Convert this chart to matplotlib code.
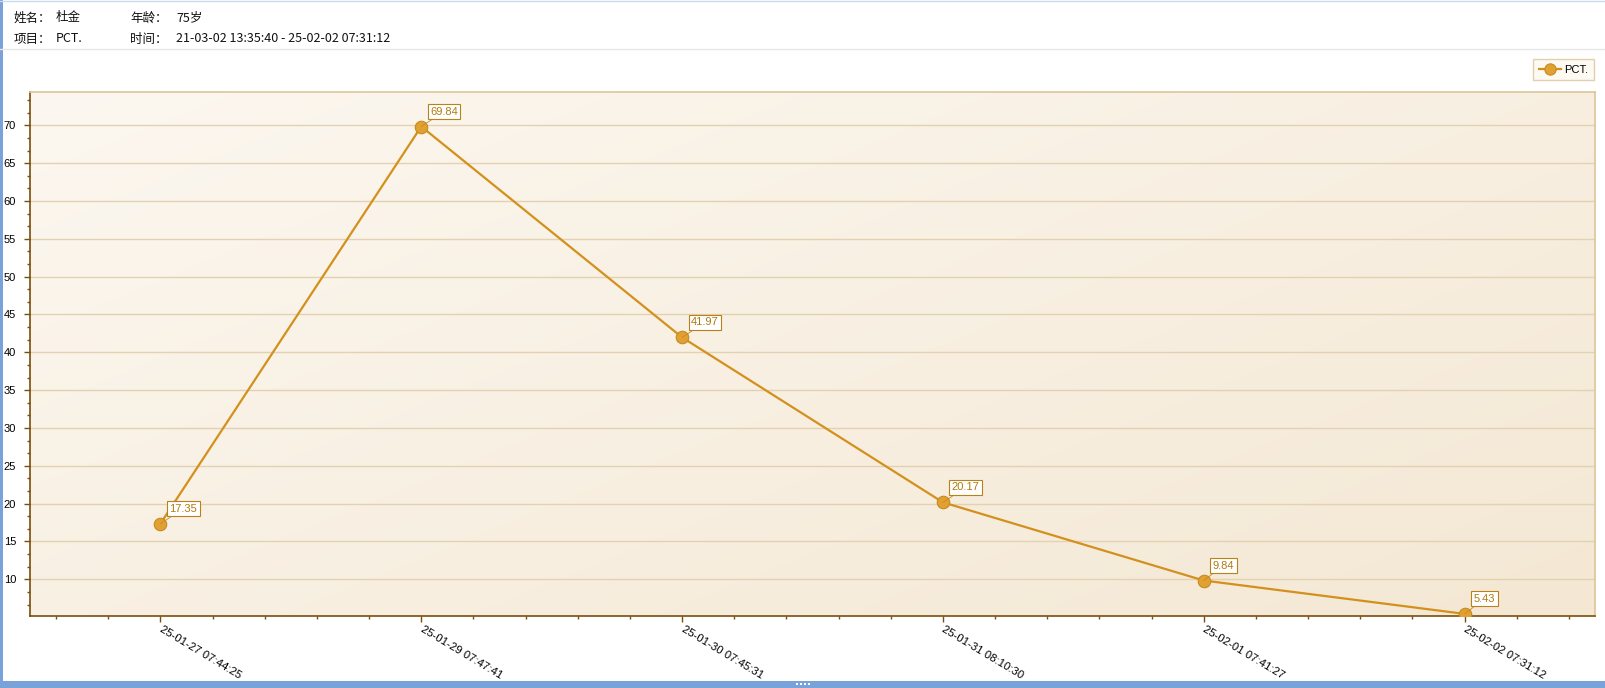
import numpy as np
import matplotlib
matplotlib.use("Agg")
import matplotlib.pyplot as plt
from matplotlib.patches import Rectangle
from matplotlib.lines import Line2D
from matplotlib.ticker import MultipleLocator

plt.rcParams['font.family'] = ['Liberation Sans', 'Noto Sans CJK SC']

# data
times = ["25-01-27 07:44:25", "25-01-29 07:47:41", "25-01-30 07:45:31",
         "25-01-31 08:10:30", "25-02-01 07:41:27", "25-02-02 07:31:12"]
pct = [17.35, 69.84, 41.97, 20.17, 9.84, 5.43]
series_name = "PCT."

# header info
header_rows = [
    [("姓名：", "杜金"), ("年龄：", "75岁")],
    [("项目：", "PCT."), ("时间：", "21-03-02 13:35:40 - 25-02-02 07:31:12")],
]

W, H = 1605, 688
fig = plt.figure(figsize=(W / 100, H / 100), dpi=100)
fig.patch.set_facecolor("white")

def px(x, y):
    return x / W, 1 - y / H

# header
cjk = ['Noto Sans CJK SC', 'DejaVu Sans']
for row, y in zip(header_rows, [18, 39]):
    for (lab, val), (x1, x2) in zip(row, [(14, 56), (130, 176)]):
        fig.text(*px(x1, y), lab, fontsize=9, family=cjk, va='center', ha='left', color='#111111')
        fig.text(*px(x2, y), val, fontsize=9, family=cjk, va='center', ha='left', color='#111111')
fig.add_artist(Line2D([0, 1], [1 - 49 / H] * 2, color='#e6e6e6', lw=1))

# window chrome
fig.add_artist(Rectangle((0, 0), 2.5 / W, 1, color='#7aa2da', lw=0))
fig.add_artist(Rectangle((0, 0), 1, 7 / H, color='#7aa2da', lw=0))
fig.add_artist(Line2D([0, 1], [1 - 0.5 / H] * 2, color='#c9d9f0', lw=1))
for i in range(4):
    fig.add_artist(Rectangle(((796 + i * 4) / W, 3 / H), 2 / W, 2 / H, color='white', lw=0))

# plot area
ax = fig.add_axes([30 / W, (H - 616) / H, (1595 - 30) / W, (616 - 92) / H])
ax.set_facecolor('none')
grad = np.linspace(0, 1, 200)
gx, gy = np.meshgrid(grad, grad)
g = (gx * 0.55 + gy * 0.45)
c0 = np.array([0.988, 0.969, 0.941])
c1 = np.array([0.957, 0.910, 0.831])
img = c0 + (c1 - c0) * g[..., None]
ax.imshow(img, extent=[0, 1, 0, 1], transform=ax.transAxes, aspect='auto', zorder=0)

x = np.arange(len(times))
line_col = '#d4901c'
ax.plot(x, pct, color=line_col, lw=1.6, marker='o', ms=9,
        markerfacecolor='#e0a032', markeredgecolor='#c98a1e', markeredgewidth=0.8, zorder=3)

for xi, yi in zip(x, pct):
    ax.annotate(f"{yi:.2f}", (xi, yi), xytext=(9, 10), textcoords='offset pixels',
                fontsize=8, color='#b07a10', ha='left', va='bottom',
                bbox=dict(boxstyle='square,pad=0.22', fc='white', ec='#b8821a', lw=0.8),
                arrowprops=dict(arrowstyle='-', color='#c98a1e', lw=0.6, shrinkA=0, shrinkB=0),
                zorder=4)

ax.set_xlim(-0.5, 5.5)
ax.set_ylim(5.15, 74.4)
ax.yaxis.set_major_locator(MultipleLocator(5))
ax.yaxis.set_minor_locator(MultipleLocator(5 / 3))
ax.xaxis.set_minor_locator(MultipleLocator(0.2))
ax.set_xticks(x)
ax.set_xticklabels(times, rotation=-31, ha='left', va='center', rotation_mode='anchor', fontsize=8.2)
ax.tick_params(axis='y', labelsize=8, pad=6)
ax.tick_params(which='major', length=4, color='#7a4e0c', width=1)
ax.tick_params(which='minor', length=2, color='#7a4e0c', width=1)
ax.tick_params(axis='x', pad=5)
ax.grid(axis='y', color='#e3d2b2', lw=1)
ax.set_axisbelow(True)
for s in ['left', 'bottom']:
    ax.spines[s].set_color('#7a4e0c')
    ax.spines[s].set_linewidth(1.2)
for s in ['top', 'right']:
    ax.spines[s].set_color('#dcc59a')
    ax.spines[s].set_linewidth(1.2)

leg = ax.legend([series_name], loc='upper right', bbox_to_anchor=(1594 / W, 1 - 59 / H),
                bbox_transform=fig.transFigure, fontsize=8, frameon=True, fancybox=False,
                borderaxespad=0, handlelength=2.0, handletextpad=0.3, borderpad=0.5,
                markerscale=0.9)
leg.get_frame().set_edgecolor('#dcc59a')
leg.get_frame().set_facecolor('#fdf8f0')

fig.savefig("out.png", dpi=100)
